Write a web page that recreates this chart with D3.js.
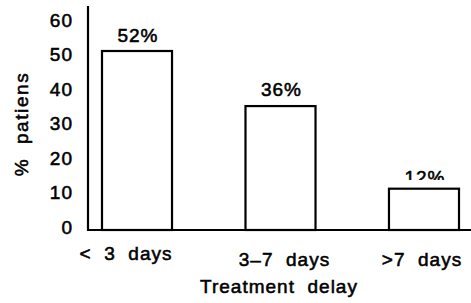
<!DOCTYPE html>
<html>
<head>
<meta charset="utf-8">
<script src="https://cdn.jsdelivr.net/npm/d3@7"></script>
<style>
  body { margin: 0; background: #fff; }
  text { font-family: "Liberation Sans", Arial, sans-serif; font-size: 19px; fill: #000; stroke: #000; stroke-width: 0.55px; letter-spacing: 1px; }
</style>
</head>
<body>
<div id="chart"></div>
<script>
const categories = ["<  3  days", "3–7  days", ">7  days"];
const values = [52, 36, 12];
const valueLabels = ["52%", "36%", "12%"];
const yTicks = [0, 10, 20, 30, 40, 50, 60];

const width = 471;
const height = 303;
const axisX = 88;
const baseY = 230;

const svg = d3
  .select("#chart")
  .append("svg")
  .attr("width", width)
  .attr("height", height);

const x = d3
  .scaleBand()
  .domain(categories)
  .range([102, 459])
  .paddingInner(0.512)
  .paddingOuter(0);

const y = d3.scaleLinear().domain([0, 52]).range([baseY, 51]);

// y tick labels, no tick marks
const yAxis = svg
  .append("g")
  .attr("transform", `translate(${axisX}, -3)`)
  .call(d3.axisLeft(y).tickValues(yTicks).tickSize(0).tickPadding(15));
yAxis.select(".domain").remove();
yAxis.selectAll("text").attr("font-size", null).attr("font-family", null);

// bars
svg
  .selectAll("rect.bar")
  .data(values)
  .enter()
  .append("rect")
  .attr("class", "bar")
  .attr("x", (d, i) => x(categories[i]))
  .attr("y", (d) => y(d))
  .attr("width", x.bandwidth())
  .attr("height", (d) => baseY - y(d))
  .attr("fill", "#fff")
  .attr("stroke", "#000")
  .attr("stroke-width", 2.2);

// axes lines
svg
  .append("line")
  .attr("x1", axisX)
  .attr("x2", axisX)
  .attr("y1", 6)
  .attr("y2", baseY + 1)
  .attr("stroke", "#000")
  .attr("stroke-width", 2.2);

svg
  .append("line")
  .attr("x1", axisX - 1)
  .attr("x2", width)
  .attr("y1", baseY)
  .attr("y2", baseY)
  .attr("stroke", "#000")
  .attr("stroke-width", 2.2);

// the scan cuts off the bottom of the last value label
svg
  .append("clipPath")
  .attr("id", "cut")
  .append("rect")
  .attr("x", 0)
  .attr("y", 0)
  .attr("width", width)
  .attr("height", 180);

// value labels
const labelGap = [9, 10, 5];
svg
  .selectAll("text.val")
  .data(values)
  .enter()
  .append("text")
  .attr("class", "val")
  .attr("x", (d, i) => x(categories[i]) + x.bandwidth() / 2 + 1)
  .attr("y", (d, i) => y(d) - labelGap[i])
  .attr("text-anchor", "middle")
  .attr("clip-path", (d, i) => (i === 2 ? "url(#cut)" : null))
  .text((d, i) => valueLabels[i]);

// category labels
const catOffsetX = [-11, 4, -2];
const catY = [260, 266, 266];
svg
  .selectAll("text.cat")
  .data(categories)
  .enter()
  .append("text")
  .attr("class", "cat")
  .attr("x", (d, i) => x(d) + x.bandwidth() / 2 + catOffsetX[i])
  .attr("y", (d, i) => catY[i])
  .attr("text-anchor", "middle")
  .style("white-space", "pre")
  .text((d) => d);

// axis titles
svg
  .append("text")
  .attr("x", 279)
  .attr("y", 293)
  .attr("text-anchor", "middle")
  .style("white-space", "pre")
  .text("Treatment  delay");

svg
  .append("text")
  .attr("transform", "translate(28, 124) rotate(-90)")
  .attr("text-anchor", "middle")
  .style("letter-spacing", "1.6px")
  .style("white-space", "pre")
  .text("%  patiens");
</script>
</body>
</html>
